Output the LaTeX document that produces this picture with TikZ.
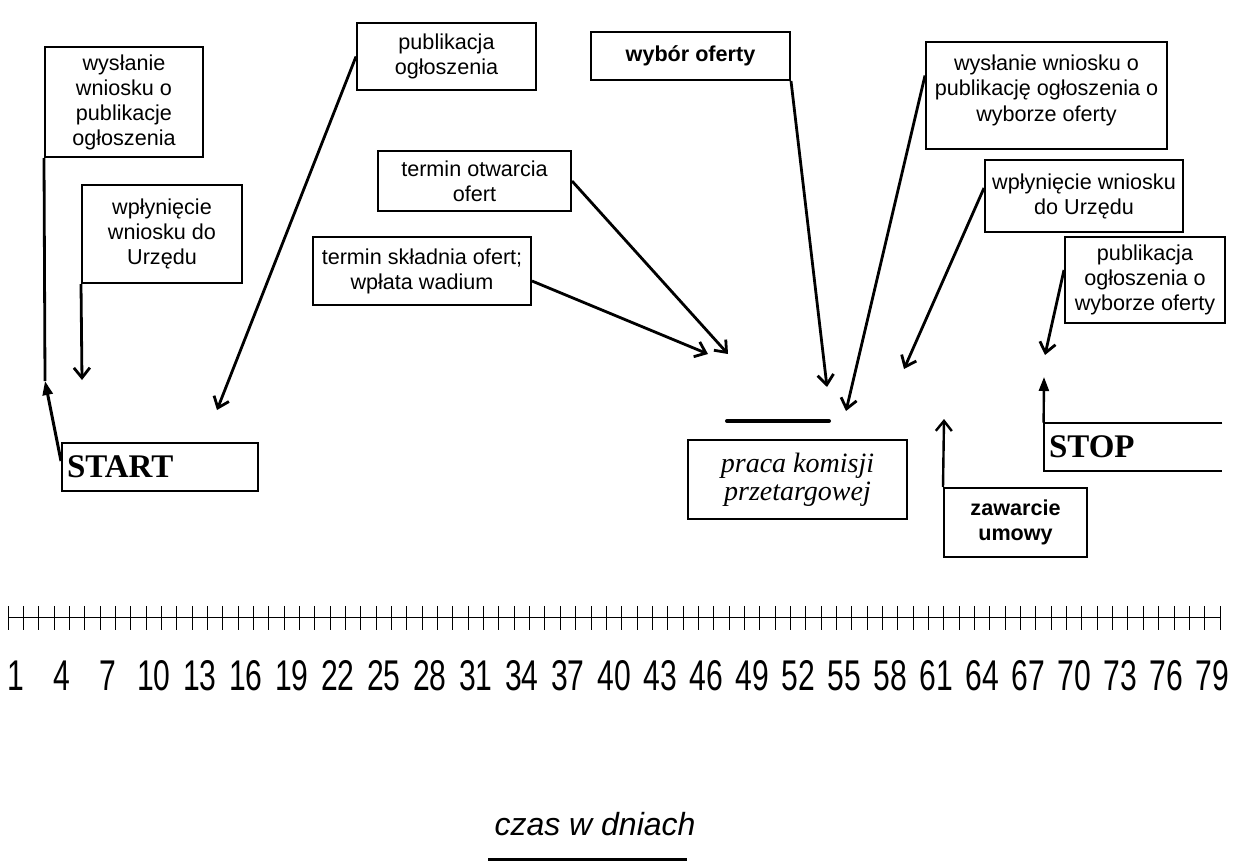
\documentclass[tikz,border=0pt]{standalone}
\usepackage{fontspec}
\setmainfont{Liberation Sans}
\newfontfamily\timesft{Liberation Serif}
\usetikzlibrary{arrows.meta, positioning, calc}

\begin{document}
\begin{tikzpicture}[x=0.5pt, y=-0.5pt,
    box/.style={draw, line width=1pt, align=center, inner sep=2pt, font=\fontsize{10.8}{12.5}\selectfont},
    boldbox/.style={box, font=\fontsize{10.8}{12.5}\selectfont\bfseries},
    txt/.style={align=center, inner sep=2pt, font=\fontsize{10.8}{12.8}\selectfont},
    endbox/.style={inner xsep=2.5pt, inner ysep=0pt, align=left, font=\timesft\bfseries\fontsize{16.5}{18}\selectfont},
    conn/.style={line width=1.4pt},
    arr/.style={conn, -{Straight Barb[length=5pt, width=8pt]}},
    uparr/.style={line width=1.2pt, -{Triangle[length=7pt, width=5pt]}},
    daynum/.style={inner sep=0pt, anchor=base, font=\fontsize{21.5}{21.5}\selectfont}]
    \useasboundingbox (0,0) rectangle (1235,866);

    % boxes
    \node[box, minimum width=79pt, minimum height=55pt] (wysA) at (124,102) {wysłanie\\wniosku o\\publikacje\\ogłoszenia};
    \node[box, minimum width=80pt, minimum height=49pt] (wplA) at (162,234) {wpłynięcie\\wniosku do\\Urzędu};
    \node[box, minimum width=89.5pt, minimum height=33.5pt] (pub) at (446.5,56.5) {publikacja\\ogłoszenia};
    \node[boldbox, minimum width=99.5pt, minimum height=24pt] (wyb) at (690.5,56) {\raisebox{1.5pt}{wybór oferty}};
    \node[box, minimum width=96.5pt, minimum height=30pt] (otw) at (474.5,181) {termin otwarcia\\ofert};
    \node[box, minimum width=109pt, minimum height=34pt] (skl) at (422,271) {termin składnia ofert;\\wpłata wadium};
    \node[box, minimum width=120.5pt, minimum height=53.5pt,
        label={[txt, anchor=north, yshift=-4.5pt]north:{wysłanie wniosku o\\publikację ogłoszenia o\\wyborze oferty}}] (wysB) at (1046.5,95.5) {};
    \node[box, minimum width=99pt, minimum height=36pt] (wplB) at (1084,196) {wpłynięcie wniosku\\do Urzędu};
    \node[box, minimum width=80pt, minimum height=43pt] (pubB) at (1145,280) {publikacja\\ogłoszenia o\\wyborze oferty};
    \node[box, font=\timesft\itshape\fontsize{14}{14}\selectfont, minimum width=109.5pt, minimum height=39.5pt] (praca) at (797.5,479.5) {praca komisji\\przetargowej};
    \node[boldbox, minimum width=71.5pt, minimum height=34.5pt] (zaw) at (1015.5,522.5) {zawarcie\\umowy};
    \node[endbox, draw, line width=1pt, text width=93pt, minimum height=24pt] (start) at (160,467) {START};
    \node[endbox, text width=84pt, minimum height=24pt] (stop) at (1133,447) {STOP};
    \draw[line width=1pt] (stop.north east) -- (stop.north west) -- (stop.south west) -- (stop.south east);

    \draw[line width=2pt, line cap=round] (727,421) -- (829,421);

    % arrow ends
    \coordinate (tA) at (45,381);
    \coordinate (tB) at (82,380);
    \coordinate (tPub) at (217,410);
    \coordinate (tSkl) at (708,354);
    \coordinate (tOtw) at (728,354);
    \coordinate (tWyb) at (827,387);
    \coordinate (tWysB) at (846,411);
    \coordinate (tWplB) at (904,369);
    \coordinate (tPubB) at (1045,355);
    \coordinate (tStop) at (1044,377);
    \coordinate (tZaw) at (944,419);

    \draw[conn] (wysA.south west) -- (tA);
    \draw[uparr, line width=1.5pt] ([yshift=3pt]start.west) -- (tA);
    \draw[arr] (wplA.south west) -- (tB);
    \draw[arr] (pub.west) -- (tPub);
    \draw[arr] ([yshift=-5pt]skl.east) -- (tSkl);
    \draw[arr] (otw.east) -- (tOtw);
    \draw[arr] (wyb.south east) -- (tWyb);
    \draw[arr] ([yshift=10pt]wysB.west) -- (tWysB);
    \draw[arr] ([yshift=4pt]wplB.west) -- (tWplB);
    \draw[arr] ([yshift=5pt]pubB.west) -- (tPubB);
    \draw[uparr] (stop.north west) -- (tStop);
    \draw[arr, line width=1.2pt] (zaw.north west) -- (tZaw);

    % time axis
    \draw[line width=0.5pt] (8,617) -- (1220,617);
    \foreach \k in {0,...,79}
        \draw[line width=0.5pt] ({8+\k*15.342},606) -- ({8+\k*15.342},630);
    \foreach \n in {1,4,...,79}
        \node[daynum] (d\n) at ({8+(\n-0.5)*15.342},690) {\scalebox{0.7}[1]{\n}};

    \node[inner sep=0pt, anchor=base, font=\itshape\fontsize{16}{16}\selectfont] (czas) at (595,835) {czas w dniach};
    \draw[line width=1.5pt] (488,859) -- (687,859);
\end{tikzpicture}
\end{document}
